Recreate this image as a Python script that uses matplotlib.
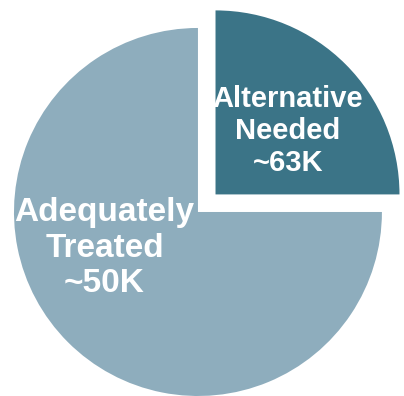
import matplotlib
matplotlib.use('Agg')
import matplotlib.pyplot as plt

# data
labels = ['Alternative\nNeeded\n~63K', 'Adequately\nTreated\n~50K']
shares = [25, 75]
colors = ['#3b7487', '#8eadbd']
explode = [0.135, 0.0]
label_pos = [(0.489, 0.44), (-0.508, -0.196)]
label_size = [21, 24]

fig = plt.figure(figsize=(4.04, 3.96), dpi=100)
ax = fig.add_axes([0, 0, 1, 1])
ax.pie(shares, colors=colors, explode=explode, startangle=90,
       counterclock=False, radius=1.0,
       wedgeprops=dict(linewidth=0))
ax.set_xlim(-1.076, 1.120)
ax.set_ylim(-1.0, 1.152)
ax.set_aspect('auto')
ax.axis('off')

for lab, (x, y), fs in zip(labels, label_pos, label_size):
    ax.text(x, y, lab, ha='center', va='center', color='white',
            fontsize=fs, fontweight='bold', family='Liberation Sans',
            linespacing=1.17)

fig.savefig('out.png', dpi=100)
